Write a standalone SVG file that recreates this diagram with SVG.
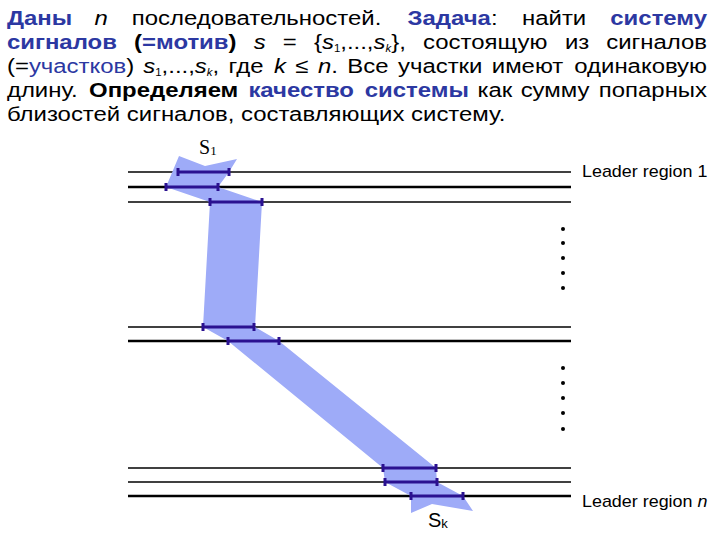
<svg xmlns="http://www.w3.org/2000/svg" width="720" height="540" viewBox="0 0 720 540">
<style>
.t{font-family:"Liberation Sans",Arial,sans-serif;font-size:21px;fill:#000}
.b{font-weight:bold}
.bl{fill:#2c38a2}
.i{font-style:italic}
.sub{font-size:10px}
.thin{stroke:#000;stroke-width:1.3}
.thick{stroke:#000;stroke-width:2.6}
.seg{stroke:#2a1190;stroke-width:3;fill:none}
.tick{stroke:#2a1190;stroke-width:3}
.dot{fill:#000}
.lbl{font-family:"Liberation Sans",Arial,sans-serif;font-size:16px;fill:#000}
</style>
<rect width="720" height="540" fill="#fff"/>
<g id="header" transform="scale(1.14,1)">
<text class="t" y="25"><tspan x="6.1" class="b bl">Даны</tspan><tspan x="83" class="i">n</tspan><tspan x="115.6">последовательностей.</tspan><tspan x="357.5" class="b bl">Задача</tspan><tspan>:</tspan><tspan x="457.9">найти</tspan></text>
<text class="t b bl" y="25" x="620.2" text-anchor="end">систему</text>
<text class="t" y="49"><tspan x="6.1" class="b bl">сигналов</tspan><tspan x="117.6" class="b">(</tspan><tspan class="b bl">=мотив</tspan><tspan class="b">)</tspan><tspan x="222.6" class="i">s</tspan><tspan x="248.1">=</tspan><tspan x="275.4">{</tspan><tspan class="i">s</tspan><tspan class="sub" dy="3">1</tspan><tspan dy="-3">,...,</tspan><tspan class="i">s</tspan><tspan class="sub i" dy="3">k</tspan><tspan dy="-3">},</tspan><tspan x="371.1">состоящую</tspan><tspan x="495.6">из</tspan></text>
<text class="t" y="49" x="620.2" text-anchor="end">сигналов</text>
<text class="t" y="73"><tspan x="6.1">(=</tspan><tspan class="bl">участков</tspan><tspan>)</tspan><tspan x="125.7" class="i">s</tspan><tspan class="sub" dy="3">1</tspan><tspan dy="-3">,...,</tspan><tspan class="i">s</tspan><tspan class="sub i" dy="3">k</tspan><tspan dy="-3">,</tspan><tspan x="200.5">где</tspan><tspan x="240.4" class="i">k</tspan><tspan x="259.1">≤</tspan><tspan x="278.9" class="i">n</tspan><tspan>.</tspan><tspan x="304.6">Все</tspan><tspan x="349.1">участки</tspan><tspan x="431.4">имеют</tspan></text>
<text class="t" y="73" x="620.2" text-anchor="end">одинаковую</text>
<text class="t" y="97"><tspan x="6.1">длину.</tspan><tspan x="78.1" class="b">Определяем</tspan><tspan x="217.9" class="b bl">качество</tspan><tspan x="320" class="b bl">системы</tspan><tspan x="418.9">как</tspan><tspan x="456.7">сумму</tspan></text>
<text class="t" y="97" x="620.2" text-anchor="end">попарных</text>
<text class="t" y="121" x="6.1">близостей сигналов, составляющих систему.</text>
</g>
<g id="leader-lines">
<line class="thin" x1="128" y1="172" x2="571" y2="172"/>
<line class="thick" x1="128" y1="187" x2="571" y2="187"/>
<line class="thin" x1="128" y1="202" x2="571" y2="202"/>
<line class="thin" x1="128" y1="327" x2="571" y2="327"/>
<line class="thick" x1="128" y1="341" x2="571" y2="341"/>
<line class="thin" x1="128" y1="468" x2="571" y2="468"/>
<line class="thin" x1="128" y1="482" x2="571" y2="482"/>
<line class="thick" x1="128" y1="496" x2="571" y2="496"/>
</g>
<g id="motif-band">
<polygon fill="#9eabf8" points="179,156 205,166 237,159 229,172 218,187 262,202 255,327 279,341 436,468 437,482 463,496 473,511 432,504 411,513 411,496 385,482 383,468 228,341 203,327 210,202 166,187"/>
</g>
<g id="segments">
<path class="seg" d="M178,172H229M166,187H218M210,202H262M203,327H254M228,341H279M383,468H436M385,482H437M411,496H463"/>
<path class="tick" d="M178,168V176M229,168V176M166,183V191M218,183V191M210,198V206M262,198V206M203,323V331M254,323V331M228,337V345M279,337V345M383,464V472M436,464V472M385,478V486M437,478V486M411,492V500M463,492V500"/>
</g>
<g id="label-s1"><text x="199" y="154" font-family="Liberation Serif,serif" font-size="20">S<tspan font-size="13" dy="1">1</tspan></text></g>
<g id="label-sk"><text x="428" y="527" font-family="Liberation Sans,sans-serif" font-size="20">S<tspan font-size="13" dy="1">k</tspan></text></g>
<g id="dots">
<circle class="dot" cx="563" cy="229" r="2"/><circle class="dot" cx="563" cy="243" r="2"/><circle class="dot" cx="563" cy="258" r="2"/><circle class="dot" cx="563" cy="273" r="2"/><circle class="dot" cx="563" cy="288" r="2"/>
<circle class="dot" cx="563" cy="368" r="2"/><circle class="dot" cx="563" cy="383" r="2"/><circle class="dot" cx="563" cy="398" r="2"/><circle class="dot" cx="563" cy="413" r="2"/><circle class="dot" cx="563" cy="429" r="2"/>
</g>
<g id="label-region1"><text class="lbl" transform="translate(582,177) scale(1.12,1)">Leader region 1</text></g>
<g id="label-regionn"><text class="lbl" transform="translate(582,507) scale(1.12,1)">Leader region <tspan font-style="italic">n</tspan></text></g>
</svg>
